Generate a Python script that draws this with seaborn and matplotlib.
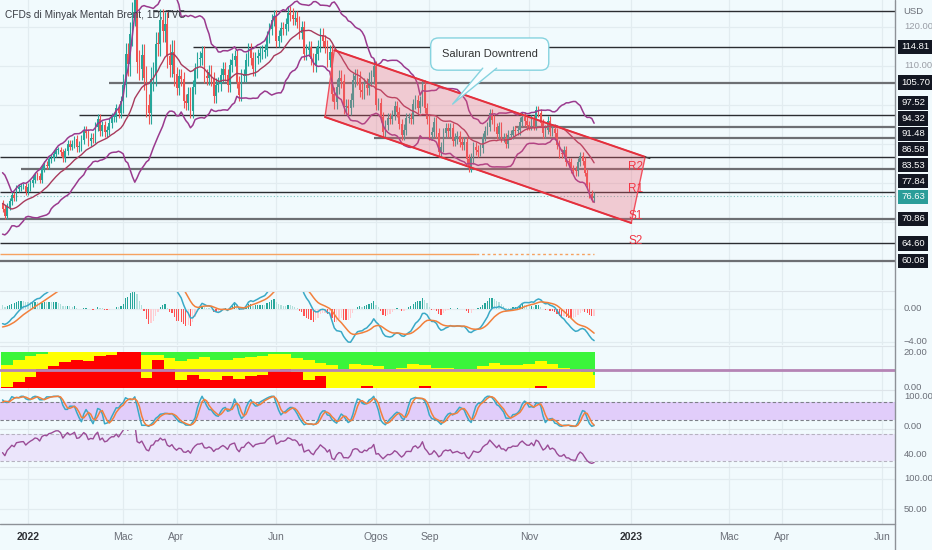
import numpy as np
import pandas as pd
import matplotlib
matplotlib.use("Agg")
import matplotlib.pyplot as plt
import matplotlib.transforms as mtransforms
from matplotlib import font_manager
from matplotlib.patches import Polygon
import seaborn as sns

# ---------------- data ----------------
# closes before the visible window, only used to warm up the indicators
warmup_close = [86.0, 86.4, 84.6, 84.3, 84.4,
                84.7, 84.7, 81.0, 80.5, 82.7, 83.4, 84.8, 82.6, 82.9, 82.2, 82.1,
                82.4, 80.3, 81.2, 78.9, 79.7, 82.3, 82.3, 82.2, 72.7, 73.4, 70.6,
                68.9, 69.7, 69.9, 73.1, 75.4, 75.8, 74.4, 75.2, 74.4, 73.7, 73.9, 75.0]

# daily closes, one per weekday, 17 Dec 2021 - 9 Dec 2022
close_dec21 = [73.5, 71.5, 74.0, 75.3, 76.9, 76.1, 78.6, 78.9, 79.2, 79.3, 77.8]
close_jan = [79.0, 80.0, 80.8, 82.0, 81.8, 80.9, 83.7, 84.7, 84.5, 86.1, 86.5,
             87.5, 88.4, 88.4, 87.9, 86.3, 88.2, 90.0, 89.3, 90.0, 91.2]
close_feb = [89.2, 89.5, 91.1, 93.3, 92.7, 90.8, 91.6, 91.4, 94.4, 96.5,
             93.3, 94.8, 93.0, 93.5, 95.4, 96.8, 96.8, 99.1, 97.9, 101.0]
close_mar = [105.0, 112.9, 110.5, 118.1, 123.2, 128.0, 111.1, 109.3, 112.7, 106.9, 99.9, 98.0,
             106.6, 107.9, 115.6, 115.5, 121.6, 119.0, 120.7, 112.5, 110.2, 113.5, 107.9]
close_apr = [104.4, 107.5, 106.6, 101.1, 100.6, 102.8, 98.5, 104.6, 108.8, 111.7, 111.9,
             113.2, 107.3, 106.8, 108.3, 106.7, 102.3, 105.0, 105.3, 107.6, 109.3]
close_may = [107.6, 105.0, 110.1, 111.6, 112.4, 105.9, 102.5, 107.5, 107.5, 111.6, 114.2,
             111.9, 109.1, 112.0, 112.6, 113.4, 113.6, 114.0, 117.4, 119.4, 121.7, 122.8]
close_jun = [116.3, 117.6, 119.7, 119.5, 120.6, 123.6, 123.1, 122.0, 122.3, 121.2, 118.5,
             119.8, 113.1, 114.1, 114.7, 111.7, 110.1, 113.1, 115.1, 118.0, 116.3, 114.8]
close_jul = [111.6, 113.5, 102.8, 100.7, 104.7, 107.0, 106.1, 99.5, 99.6, 99.1, 101.2,
             106.3, 107.4, 106.9, 103.9, 103.2, 105.2, 104.4, 106.6, 107.1, 110.0]
close_aug = [100.0, 100.5, 96.8, 93.1, 94.9, 96.7, 96.3, 97.4, 99.6, 98.2, 95.1, 92.3,
             93.7, 96.6, 96.7, 96.5, 100.2, 101.2, 99.3, 101.0, 105.1, 99.3, 96.5]
close_sep = [92.4, 93.0, 95.7, 92.8, 88.0, 89.2, 92.8, 94.0, 93.2, 94.1, 90.8,
             91.4, 92.0, 90.6, 89.8, 90.5, 86.2, 84.1, 86.3, 89.3, 88.5, 88.0]
close_oct = [88.9, 91.8, 93.4, 94.4, 97.9, 96.2, 94.3, 92.5, 94.6, 91.6, 91.6,
             90.0, 92.4, 92.4, 93.5, 93.3, 93.5, 95.7, 97.0, 95.8, 94.8]
close_nov = [94.7, 96.2, 94.7, 98.6, 97.9, 95.4, 92.7, 93.7, 96.0, 93.1, 93.9,
             92.9, 89.8, 87.6, 87.5, 88.4, 85.4, 85.3, 83.6, 83.2, 83.0, 85.4]
close_dec = [86.9, 85.6, 82.7, 79.4, 77.2, 76.2, 76.63]
months = [close_dec21, close_jan, close_feb, close_mar, close_apr, close_may, close_jun,
          close_jul, close_aug, close_sep, close_oct, close_nov, close_dec]
# typical wick length per month
wick = [0.8, 0.9, 1.2, 3.0, 1.8, 1.6, 1.6, 1.8, 1.3, 1.3, 1.1, 1.1, 1.0]

# horizontal support / resistance lines and the day each one starts
levels = [123.98, 114.81, 105.70, 97.52, 94.32, 91.48, 86.58, 83.53, 77.84, 70.86, 64.60, 60.08]
level_from = ["2022-03-18", "2022-04-12", "2022-02-21", "2022-02-02", "2022-10-24", "2022-07-29",
              None, "2021-12-29", None, None, None, None]
last_price = 76.63
orange_level = 61.87
rs_names = ["R2", "R1", "S1", "S2"]
rs_levels = [83.53, 77.84, 70.86, 64.60]

# downtrend channel anchors (date, price)
chan_top = [("2022-07-06", 114.0), ("2023-01-10", 86.7)]
chan_bot = [("2022-06-30", 96.9), ("2023-01-02", 69.8)]
callout_at = ("2022-10-07", 113.0)
callout_tip = ("2022-09-15", 100.2)

# weekly red / yellow block indicator (0-20 scale)
red_w = [0.4, 3.2, 6.0, 10.7, 12.3, 14.4, 15.3, 14.8, 17.6, 18.1, 20.0, 20.0, 5.6, 15.3,
         10.7, 4.1, 6.9, 4.7, 4.1, 6.5, 4.7, 6.4, 7.3, 9.4, 10.3, 8.8, 4.0, 6.4, 0, 0,
         0, 1.0, 0, 0, 0, 0, 0.8, 0, 0, 0, 0, 0, 0, 0, 0, 0, 1.0, 0, 0, 0, 0, 0]
yellow_w = [12.5, 15.3, 17.6, 19.1, 19.8, 20, 20, 20, 20, 20, 20, 20, 18.1, 18.1,
            16.8, 14.8, 16.3, 17.2, 15.3, 15.7, 16.6, 17.2, 17.6, 18.7, 18.7, 16.8, 15.5, 13.8,
            12.5, 10.7, 13.5, 12.5, 12.0, 10.7, 11.2, 13.5, 12.5, 11.2, 11.0, 10.7, 10.3, 12.0,
            13.8, 12.5, 12.5, 13.1, 14.8, 13.1, 11.2, 10.1, 8.8, 6.9]

ticks = [("2022-01", "2022"), ("2022-03", "Mac"), ("2022-04", "Apr"), ("2022-06", "Jun"),
         ("2022-08", "Ogos"), ("2022-09", "Sep"), ("2022-11", "Nov"), ("2023-01", "2023"),
         ("2023-03", "Mac"), ("2023-04", "Apr"), ("2023-06", "Jun")]

# ---------------- indicators ----------------
close = sum(months, [])
n = len(close)
nw = len(warmup_close)
full = pd.Series(warmup_close + close, dtype=float)

basis = full.rolling(20).mean()
dev = full.rolling(20).std(ddof=0)
bb_up, bb_lo = basis + 2 * dev, basis - 2 * dev

macd = full.ewm(span=12, adjust=False).mean() - full.ewm(span=26, adjust=False).mean()
signal = macd.ewm(span=9, adjust=False).mean()
hist = macd - signal

delta = full.diff()
gain = delta.clip(lower=0).ewm(alpha=1 / 14, adjust=False).mean()
loss = (-delta.clip(upper=0)).ewm(alpha=1 / 14, adjust=False).mean()
rsi = 100 - 100 / (1 + gain / loss)
rlo, rhi = rsi.rolling(14).min(), rsi.rolling(14).max()
stoch_k = (100 * (rsi - rlo) / (rhi - rlo)).rolling(3).mean()
stoch_d = stoch_k.rolling(3).mean()

def vis(s):
    return s.iloc[nw:].to_numpy()

bdays = pd.bdate_range("2021-12-17", "2023-06-30")

def at(day):
    return int(bdays.get_loc(pd.Timestamp(day)))

tick_idx = [int(np.argmax(bdays >= pd.Timestamp(m + "-01"))) for m, _ in ticks]
x = np.arange(n)

# ---------------- style ----------------
BG = "#f1fafd"
GRID = "#e2ecf0"
UP, DN = "#26a69a", "#ef5350"
sns.set_style("white", {"axes.facecolor": BG, "figure.facecolor": BG})
have = {f.name for f in font_manager.fontManager.ttflist}
NARROW = "Liberation Sans Narrow" if "Liberation Sans Narrow" in have else "Liberation Sans"
plt.rcParams["font.family"] = [NARROW, "DejaVu Sans"]
plt.rcParams["font.stretch"] = "condensed"
AX_FS = 6.8

W, H, PW = 932, 550, 895
XL, XR = -1.1, 384.7
fig = plt.figure(figsize=(W / 100, H / 100), dpi=100)

def pane(top, bottom, ylim):
    a = fig.add_axes([0, 1 - bottom / H, PW / W, (bottom - top) / H])
    a.set_facecolor(BG)
    a.set_xlim(XL, XR)
    a.set_ylim(*ylim)
    a.set_xticks([])
    a.set_yticks([])
    for s in a.spines.values():
        s.set_visible(False)
    for t in tick_idx:
        a.axvline(t, color=GRID, lw=0.9, zorder=0)
    return a

def rlabel(a, v, txt, color="#6b6f78"):
    tr = mtransforms.blended_transform_factory(a.transAxes, a.transData)
    a.text(1.010, v, txt, transform=tr, ha="left", va="center", fontsize=AX_FS,
           color=color, clip_on=False)

# ---------------- price pane ----------------
ax = pane(0, 290, (52.66, 126.83))
for v in range(60, 130, 10):
    ax.axhline(v, color=GRID, lw=0.9, zorder=0)

c = np.array(close)
o = np.r_[warmup_close[-1], c[:-1]]
wk_len = np.repeat(wick, [len(m) for m in months])
hi = np.maximum(o, c) + wk_len
lo = np.minimum(o, c) - wk_len
col = np.where(c >= o, UP, DN)
ax.vlines(x, lo, hi, colors=col, lw=0.8, zorder=2)
ax.bar(x, np.maximum(np.abs(c - o), 0.25), bottom=np.minimum(o, c), width=0.7,
       color=col, linewidth=0, zorder=2)

sns.lineplot(x=x, y=vis(bb_up), ax=ax, color="#9a3a8e", lw=1.1, zorder=3, estimator=None, sort=False)
sns.lineplot(x=x, y=vis(bb_lo), ax=ax, color="#9a3a8e", lw=1.1, zorder=3, estimator=None, sort=False)
sns.lineplot(x=x, y=vis(basis), ax=ax, color="#a83a5c", lw=1.0, zorder=3, estimator=None, sort=False)

heavy = {105.70, 94.32, 91.48, 83.53, 70.86, 60.08}
for lv, start in zip(levels, level_from):
    x0 = XL if start is None else at(start)
    if lv in heavy:
        ax.hlines(lv, x0, XR, colors="#6d6f73", lw=1.6, zorder=1.5)
    else:
        ax.hlines(lv, x0, XR, colors="#2b2d31", lw=1.0, zorder=1.5)

split = at("2022-09-29")
ax.hlines(orange_level, XL, split, colors="#f6a260", lw=1.0, zorder=1.5)
ax.hlines(orange_level, split, n - 1, colors="#f6a260", lw=1.0, linestyles=(0, (2, 2)), zorder=1.5)
ax.axhline(last_price, color=UP, lw=0.8, ls=(0, (1, 2)), alpha=0.6, zorder=1.5)

quad = [(at(chan_top[0][0]), chan_top[0][1]), (at(chan_top[1][0]), chan_top[1][1]),
        (at(chan_bot[1][0]), chan_bot[1][1]), (at(chan_bot[0][0]), chan_bot[0][1])]
ax.add_patch(Polygon(quad, closed=True, fc="#ef5d6f", alpha=0.3, ec="none", zorder=4))
ax.add_patch(Polygon(quad, closed=True, fill=False, ec="#f0505e", lw=1.0, zorder=4.5))
ax.plot([quad[0][0], quad[1][0]], [quad[0][1], quad[1][1]], color="#e3303d", lw=1.4, zorder=4.6)
ax.plot([quad[3][0], quad[2][0]], [quad[3][1], quad[2][1]], color="#e3303d", lw=1.4, zorder=4.6)
ax.plot([quad[1][0], quad[1][0] + 2], [quad[1][1], quad[1][1] - 0.4], color="#444", lw=1, zorder=4.6)

cx, cy = at(callout_at[0]), callout_at[1]
tx, ty = at(callout_tip[0]), callout_tip[1]
ax.text(cx, cy, "Saluran Downtrend", ha="center", va="center", fontsize=8, color="#333",
        zorder=6, bbox=dict(boxstyle="round,pad=1.0,rounding_size=0.7", fc="#f7fdff",
                            ec="#86d3df", lw=1.0))
tail = [(cx - 3, cy - 3.6), (tx, ty), (cx + 3, cy - 3.6)]
ax.add_patch(Polygon(tail, closed=True, fc="#f7fdff", ec="none", zorder=6.5))
ax.plot([tail[0][0], tx, tail[2][0]], [tail[0][1], ty, tail[2][1]], color="#86d3df", lw=1.0, zorder=6.6)

rs_x = at("2023-01-04")
for name, lv in zip(rs_names, rs_levels):
    ax.text(rs_x, lv + 0.7, name, color="#f23645", fontsize=8.5, ha="center", va="center", zorder=7)

rlabel(ax, 120, "120.00", color="#9a9ea6")
rlabel(ax, 110, "110.00", color="#9a9ea6")
tag_y = [114.81, 105.70, 100.5, 96.6, 92.6, 88.7, 84.6, 80.5, 70.86, 64.60, 60.08]
tr = mtransforms.blended_transform_factory(ax.transAxes, ax.transData)
tagged = [lv for lv in levels if lv != 123.98]
for lv, ty_ in zip(tagged, tag_y):
    ax.text(1.007, ty_, f"{lv:.2f}", transform=tr, ha="left", va="center", fontsize=AX_FS,
            color="white", clip_on=False,
            bbox=dict(boxstyle="square,pad=0.3", fc="#131722", ec="none"))
ax.text(1.007, 76.45, f"{last_price:.2f}", transform=tr, ha="left", va="center", fontsize=AX_FS,
        color="white", clip_on=False, bbox=dict(boxstyle="square,pad=0.3", fc="#2a9d99", ec="none"))

# ---------------- MACD ----------------
am = pane(291, 345, (-4.4, 2.14))
for v in (0, -4):
    am.axhline(v, color=GRID, lw=0.9, zorder=0)
h = vis(hist)
hp = np.r_[h[0], h[:-1]]
hcol = np.where(h >= 0, np.where(h > hp, "#26a69a", "#b2dfdb"), np.where(h > hp, "#ffcdd2", "#ff5252"))
am.bar(x, h, width=0.55, color=hcol, linewidth=0, zorder=2)
sns.lineplot(x=x, y=vis(macd), ax=am, color="#3aa9c6", lw=1.1, zorder=3, estimator=None, sort=False)
sns.lineplot(x=x, y=vis(signal), ax=am, color="#f2803c", lw=1.1, zorder=3, estimator=None, sort=False)
rlabel(am, 0, "0.00")
rlabel(am, -4, "\u22124.00")

# ---------------- red / yellow / green blocks ----------------
av = pane(346, 390, (-1.4, 23.4))
wk = np.arange(len(red_w)) * 5
widths = np.minimum(5, n - wk)
red = np.array(red_w)
yel = np.array(yellow_w)
av.bar(wk - 0.5, red, width=widths, align="edge", color="#ff0000", linewidth=0, zorder=2)
av.bar(wk - 0.5, yel - red, bottom=red, width=widths, align="edge", color="#ffff00", linewidth=0, zorder=2)
av.bar(wk - 0.5, 20 - yel, bottom=yel, width=widths, align="edge", color="#3af53a", linewidth=0, zorder=2)
av.axhline(10, color="#b584b5", lw=2, zorder=3)
rlabel(av, 20, "20.00")
rlabel(av, 0, "0.00")

# ---------------- Stoch RSI ----------------
ast = pane(390, 429, (-9, 121))
ast.axhspan(20, 80, color="#e1cdfa", lw=0, zorder=0.5)
for v in (80, 20):
    ast.axhline(v, color="#7d8088", lw=0.8, ls=(0, (3, 2)), zorder=1)
sns.lineplot(x=x, y=vis(stoch_k), ax=ast, color="#3aa9c6", lw=1.1, zorder=3, estimator=None, sort=False)
sns.lineplot(x=x, y=vis(stoch_d), ax=ast, color="#f2803c", lw=1.1, zorder=3, estimator=None, sort=False)
rlabel(ast, 100, "100.00")
rlabel(ast, 0, "0.00")

# ---------------- RSI ----------------
ar = pane(429, 467, (21.1, 77.4))
ar.axhspan(30, 70, color="#ebe5fb", lw=0, zorder=0.5)
for v in (70, 30):
    ar.axhline(v, color="#b6b2c0", lw=0.8, ls=(0, (3, 2)), zorder=1)
sns.lineplot(x=x, y=vis(rsi), ax=ar, color="#9a4c96", lw=1.0, zorder=3, estimator=None, sort=False)
rlabel(ar, 40, "40.00")

# ---------------- empty pane + date axis ----------------
ae = pane(467, 524, (26, 119.1))
for v in (100, 50):
    ae.axhline(v, color=GRID, lw=0.9, zorder=0)
rlabel(ae, 100, "100.00")
rlabel(ae, 50, "50.00")
trx = mtransforms.blended_transform_factory(ae.transData, ae.transAxes)
for t, (_, lab) in zip(tick_idx, ticks):
    year = lab.isdigit()
    ae.text(t, -0.23, lab, transform=trx, ha="center", va="center", fontsize=7.5,
            color="#2e3035" if year else "#6b6f78", fontweight="bold" if year else "normal",
            clip_on=False)

# separators, axis lines and header text
for yy in (291, 345.5, 390, 429, 467):
    fig.add_artist(plt.Line2D([0, PW / W], [1 - yy / H] * 2, color="#dde4e9", lw=0.8))
fig.add_artist(plt.Line2D([0, PW / W], [1 - 524 / H] * 2, color="#8d9197", lw=1.0))
fig.add_artist(plt.Line2D([PW / W] * 2, [0, 1], color="#8d9197", lw=1.0))
fig.text(5 / W, 1 - 15 / H, "CFDs di Minyak Mentah Brent, 1D, TVC", fontsize=7.3,
         color="#3a3d44", ha="left", va="center")
fig.text(903 / W, 1 - 12 / H, "USD", fontsize=AX_FS, color="#6b6f78", ha="left", va="center")

fig.savefig("out.png", dpi=100, facecolor=BG)
